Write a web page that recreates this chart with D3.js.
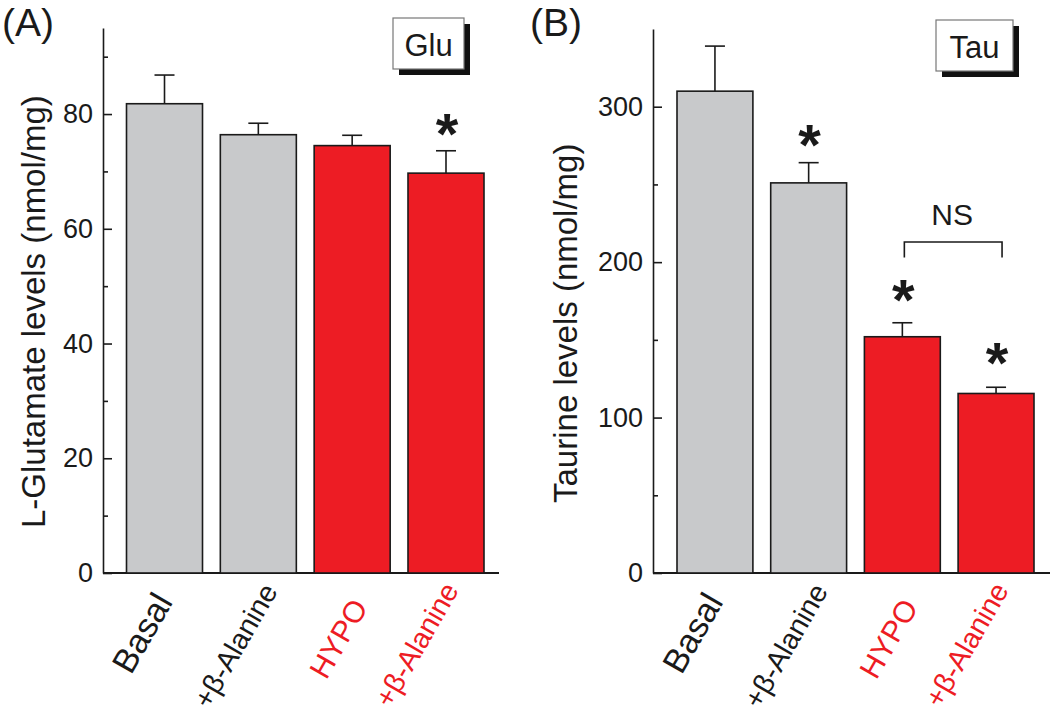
<!DOCTYPE html>
<html>
<head>
<meta charset="utf-8">
<script src="https://cdn.jsdelivr.net/npm/d3@7"></script>
<style>
  html, body { margin: 0; padding: 0; background: #fff; }
  svg { display: block; }
  text { font-family: "Liberation Sans", Arial, Helvetica, sans-serif; }
</style>
</head>
<body>
<svg id="chart" width="1050" height="722"></svg>
<script>
// ---------- data ----------
const categories = ["Basal", "+\u03B2-Alanine", "HYPO", "+\u03B2-Alanine"];
const groupIsHypo = [false, false, true, true];

const gluMean = [81.8, 76.4, 74.5, 69.7];
const gluErr  = [5.0, 2.0, 1.8, 3.9];
const gluSig  = [null, null, null, 78.6];   // asterisk centre (data units)

const tauMean = [310, 251, 152, 115.5];
const tauErr  = [29, 13, 9, 4];
const tauSig  = [null, 283, 183, 143];

const gluMajorTicks = [0, 20, 40, 60, 80];
const gluMinorTicks = [10, 30, 50, 70, 90];
const tauMajorTicks = [0, 100, 200, 300];
const tauMinorTicks = [50, 150, 250];

// ---------- layout / styles ----------
const GRAY = "#c8c9cb";
const RED = "#ed1c24";
const INK = "#1a1a1a";
const FONT = "'Liberation Sans', Arial, sans-serif";
const labelSize = [34, 28.5, 30, 28.5];
const labelDx = [9, 20, 16.5, 13.5];
const labelY = [602, 591, 607, 590];

const svg = d3.select("#chart");

function panel(opt) {
  const g = svg.append("g");
  const y = d3.scaleLinear().domain([0, opt.yMax]).range([573, opt.yTop]);
  const x = d3.scaleBand().domain(d3.range(categories.length))
    .range([opt.barStart, opt.barEnd]).paddingInner(0.19).paddingOuter(0);
  const cx = i => x(i) + x.bandwidth() / 2;

  // major ticks + labels
  const ax = g.append("g").attr("transform", `translate(${opt.axisX},0)`)
    .call(d3.axisLeft(y).tickValues(opt.major).tickSizeInner(-9).tickSizeOuter(0).tickPadding(10));
  ax.select(".domain").attr("stroke", INK).attr("stroke-width", 1.6);
  ax.selectAll(".tick line").attr("stroke", INK).attr("stroke-width", 1.6);
  ax.selectAll(".tick text").attr("font-size", 27).attr("font-family", FONT).attr("fill", INK);

  const mn = g.append("g").attr("transform", `translate(${opt.axisX},0)`)
    .call(d3.axisLeft(y).tickValues(opt.minor).tickSize(-5).tickFormat(""));
  mn.select(".domain").remove();
  mn.selectAll(".tick line").attr("stroke", INK).attr("stroke-width", 1.6);

  // x axis baseline
  g.append("line").attr("x1", opt.axisX).attr("x2", opt.axisEnd)
    .attr("y1", y(0)).attr("y2", y(0))
    .attr("stroke", INK).attr("stroke-width", 1.8);

  // bars
  g.selectAll("rect.bar").data(opt.mean).join("rect").attr("class", "bar")
    .attr("x", (d, i) => x(i)).attr("width", x.bandwidth())
    .attr("y", d => y(d)).attr("height", d => y(0) - y(d))
    .attr("fill", (d, i) => groupIsHypo[i] ? RED : GRAY)
    .attr("stroke", INK).attr("stroke-width", 1.6);

  // error bars
  const eb = g.selectAll("g.err").data(opt.mean).join("g").attr("class", "err");
  eb.append("line")
    .attr("x1", (d, i) => cx(i)).attr("x2", (d, i) => cx(i))
    .attr("y1", d => y(d)).attr("y2", (d, i) => y(d + opt.err[i]))
    .attr("stroke", INK).attr("stroke-width", 1.6);
  eb.append("line")
    .attr("x1", (d, i) => cx(i) - 10).attr("x2", (d, i) => cx(i) + 10)
    .attr("y1", (d, i) => y(d + opt.err[i])).attr("y2", (d, i) => y(d + opt.err[i]))
    .attr("stroke", INK).attr("stroke-width", 1.6);

  // significance asterisks
  const ASF = 58;
  g.selectAll("text.sig").data(opt.sig.map((s, i) => ({ s, i })).filter(d => d.s !== null))
    .join("text").attr("class", "sig")
    .attr("x", d => cx(d.i) + 1)
    .attr("y", d => y(d.s) + ASF * 0.55)
    .attr("text-anchor", "middle").attr("font-size", ASF).attr("font-weight", "bold")
    .attr("fill", INK).text("*");

  // category labels
  g.selectAll("text.cat").data(categories).join("text").attr("class", "cat")
    .attr("transform", (d, i) => `translate(${cx(i) + labelDx[i]},${labelY[i]}) rotate(-60)`)
    .attr("text-anchor", "end")
    .attr("font-size", (d, i) => labelSize[i])
    .attr("fill", (d, i) => groupIsHypo[i] ? RED : INK)
    .text(d => d);

  // y title
  g.append("text")
    .attr("transform", `translate(${opt.titleX},${opt.titleY}) rotate(-90)`)
    .attr("text-anchor", "start").attr("font-size", 33).attr("fill", INK)
    .text(opt.title);

  // panel letter
  g.append("text").attr("x", opt.letterX).attr("y", 36)
    .attr("font-size", 39).attr("fill", INK).text(opt.letter);

  // legend box with shadow
  const b = opt.box;
  g.append("rect").attr("x", b[0] + 6).attr("y", b[1] + 6).attr("width", b[2]).attr("height", b[3])
    .attr("fill", "#111");
  g.append("rect").attr("x", b[0]).attr("y", b[1]).attr("width", b[2]).attr("height", b[3])
    .attr("fill", "#fff").attr("stroke", "#777").attr("stroke-width", 1.2);
  g.append("text").attr("x", b[0] + b[2] / 2).attr("y", b[1] + 38)
    .attr("text-anchor", "middle").attr("font-size", 31).attr("fill", INK).text(opt.boxText);

  return { x, y, g, cx };
}

panel({
  yMax: 95, yTop: 28, axisX: 103, axisEnd: 499, barStart: 126.5, barEnd: 484,
  mean: gluMean, err: gluErr, sig: gluSig,
  major: gluMajorTicks, minor: gluMinorTicks,
  title: "L-Glutamate levels (nmol/mg)", titleX: 45, titleY: 528,
  letter: "(A)", letterX: 2, box: [393, 18, 71, 51], boxText: "Glu"
});

const pB = panel({
  yMax: 350, yTop: 29, axisX: 653, axisEnd: 1050, barStart: 677, barEnd: 1034,
  mean: tauMean, err: tauErr, sig: tauSig,
  major: tauMajorTicks, minor: tauMinorTicks,
  title: "Taurine levels (nmol/mg)", titleX: 577, titleY: 503,
  letter: "(B)", letterX: 530, box: [936, 20, 77, 51], boxText: "Tau"
});

// NS bracket between HYPO and HYPO + beta-alanine (panel B)
const bx1 = pB.cx(2) + 2;
const bx2 = pB.cx(3) + 6;
const by = pB.y(213), byLeg = pB.y(203);
pB.g.append("path")
  .attr("d", `M${bx1},${byLeg}V${by}H${bx2}V${byLeg}`)
  .attr("fill", "none").attr("stroke", INK).attr("stroke-width", 1.6);
pB.g.append("text").attr("x", (bx1 + bx2) / 2 - 1).attr("y", by - 17)
  .attr("text-anchor", "middle").attr("font-size", 30).attr("fill", INK).text("NS");
</script>
</body>
</html>
